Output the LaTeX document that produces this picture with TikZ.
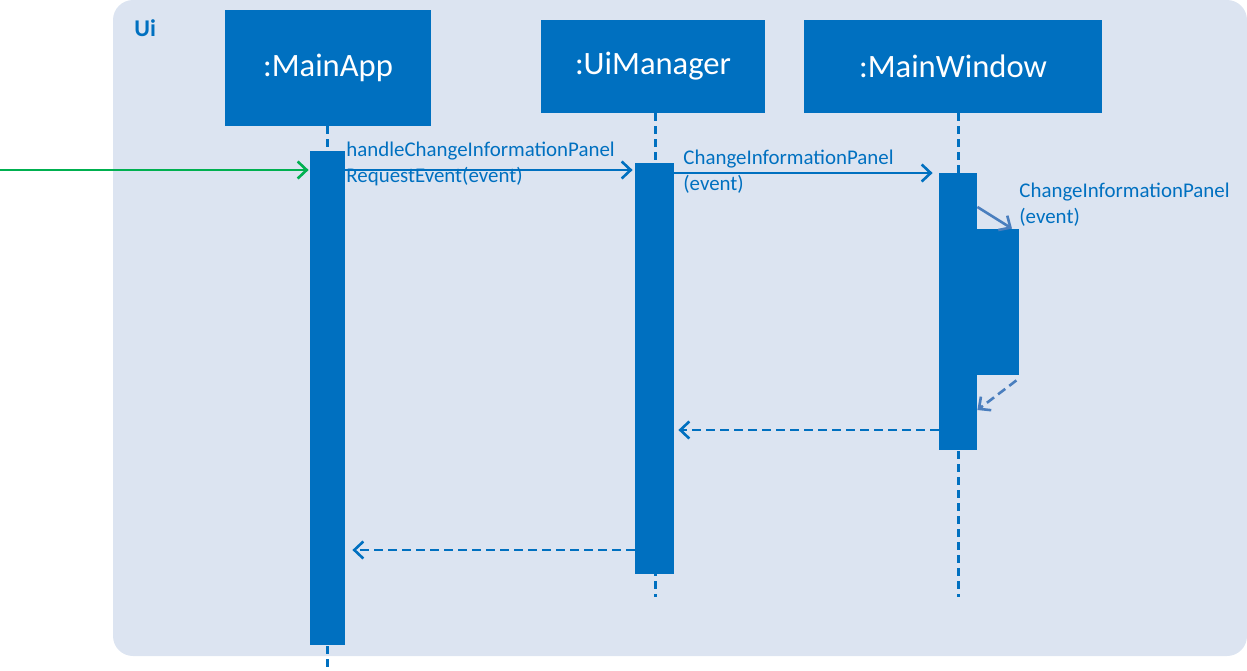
\documentclass[tikz,border=0pt]{standalone}
\usepackage{fontspec}
\setmainfont{Carlito}
\usetikzlibrary{arrows.meta,calc}
\definecolor{uiblue}{HTML}{0070C0}
\definecolor{uibg}{HTML}{DCE4F1}
\definecolor{uigreen}{HTML}{00B050}
\definecolor{selfblue}{HTML}{4A7EBE}
\tikzset{
    lifebox/.style = {fill=uiblue, text=white, inner sep=0pt,
        minimum height=46.5pt, font=\fontsize{16.3}{19}\selectfont},
    actbar/.style = {fill=uiblue, inner sep=0pt, minimum width=19pt},
    lifeline/.style = {draw=uiblue, line width=1.5pt, dash pattern=on 4pt off 2.5pt},
    msg/.style = {draw=uiblue, line width=1.3pt, -{Straight Barb[length=4.5pt,width=8.5pt]}},
    retmsg/.style = {msg, dash pattern=on 4.5pt off 2.5pt},
    msglabel/.style = {text=uiblue, inner sep=0pt, anchor=west, align=left,
        font=\fontsize{10.45}{13}\selectfont}
}
\begin{document}
\begin{tikzpicture}[x=0.5pt, y=-0.5pt]
    \useasboundingbox (0,0) rectangle (1247,670);
    \fill [uibg, rounded corners=10pt] (113,0) rectangle (1247,656);
    \node [text=uiblue, inner sep=0pt, anchor=west, font=\fontsize{12}{14}\selectfont\bfseries] (ui) at (134,28) {Ui};
    \node [lifebox, minimum width=103pt, minimum height=58pt] (app) at (328,68) {:MainApp};
    \node [lifebox, minimum width=112pt] (mgr) at (653,66.5) {:UiManager};
    \node [lifebox, minimum width=149pt] (win) at (953,66.5) {:MainWindow};
    \draw [lifeline] ($(app.south)+(-1,0)$) -- ($(app.south)+(-1,541)$);
    \draw [lifeline] ($(mgr.south)+(2,0)$) -- ($(mgr.south)+(2,484)$);
    \draw [lifeline] ($(win.south)+(5,0)$) -- ($(win.south)+(5,484)$);
    \node [actbar, minimum width=17.5pt, minimum height=247pt] (appact) at (327.5,398) {};
    \node [actbar, minimum width=19.5pt, minimum height=205.5pt] (mgract) at (654.5,368.5) {};
    \node [actbar, minimum height=138.5pt] (winact) at (958,311.5) {};
    \node [actbar, minimum width=21pt, minimum height=73pt] (selfact) at (998,302) {};
    \coordinate (start) at (0,170);
    \draw [msg, draw=uigreen, shorten >=0.5pt] (start) -- (appact.west |- start);
    \draw [msg, shorten >=1pt] (appact.east |- 0,170) -- (mgract.west |- 0,170);
    \node [msglabel] (l1) at (346,164) {handleChangeInformationPanel\\RequestEvent(event)};
    \draw [msg, shorten >=3pt] (mgract.east |- 0,173) -- (winact.west |- 0,173);
    \node [msglabel] (l2) at (683,171.5) {ChangeInformationPanel\\(event)};
    \draw [msg, draw=selfblue] (winact.east |- 0,207) -- ([xshift=7pt]selfact.north);
    \node [msglabel] (l3) at (1019,205) {ChangeInformationPanel\\(event)};
    \draw [retmsg, draw=selfblue] ([xshift=-1.5pt,yshift=-2.5pt]selfact.south east) -- (winact.east |- 0,410);
    \draw [retmsg, shorten >=2pt] (winact.west |- 0,430) -- (mgract.east |- 0,430);
    \draw [retmsg, shorten >=3.5pt] (mgract.west |- 0,550) -- (appact.east |- 0,550);
\end{tikzpicture}
\end{document}
